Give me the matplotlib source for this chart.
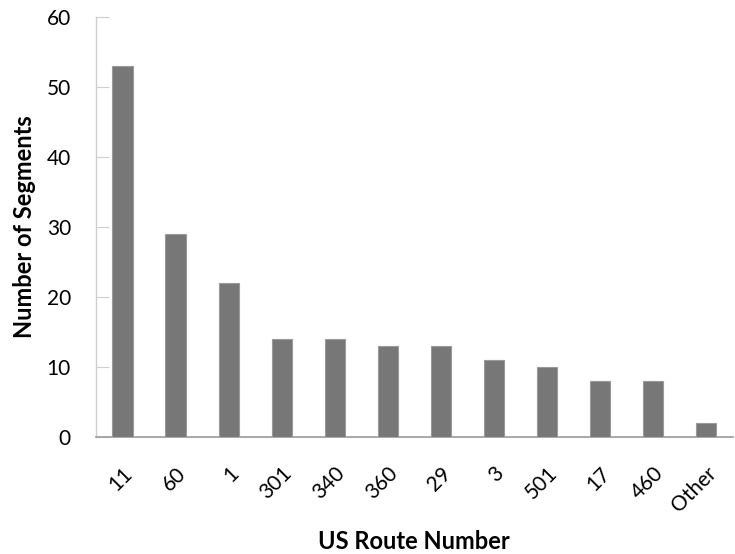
import matplotlib
matplotlib.use("Agg")
import matplotlib.pyplot as plt
import numpy as np

routes = ['11', '60', '1', '301', '340', '360', '29', '3', '501', '17', '460', 'Other']
segments = [53, 29, 22, 14, 14, 13, 13, 11, 10, 8, 8, 2]

plt.rcParams['font.family'] = ['Lato', 'DejaVu Sans']

fig = plt.figure(figsize=(7.35, 5.54), dpi=100)
ax = fig.add_axes([0.1306, 0.2112, 0.866, 0.758])

x = np.arange(len(routes))
ax.bar(x, segments, width=0.38, color='#777777', edgecolor='#9a9a9a', linewidth=0.8, zorder=3)

ax.set_xlim(-0.5, len(routes) - 0.5)
ax.set_ylim(0, 60)
ax.set_yticks(np.arange(0, 61, 10))
ax.set_xticks(x)
ax.set_xticklabels(routes, rotation=45, ha='right', rotation_mode='anchor')

for s in ['top', 'right']:
    ax.spines[s].set_visible(False)
ax.spines['left'].set_color('#cfcfcf')
ax.spines['bottom'].set_color('#9a9a9a')
ax.spines['left'].set_linewidth(1.0)
ax.spines['bottom'].set_linewidth(1.2)

ax.tick_params(axis='y', direction='in', length=9, color='#cfcfcf', labelsize=15, pad=18)
ax.tick_params(axis='x', length=0, labelsize=15, pad=19)

ax.set_xlabel('US Route Number', fontsize=17, fontweight='bold', labelpad=10)
ax.set_ylabel('Number of Segments', fontsize=17, fontweight='bold', labelpad=8)

fig.savefig('out.png', dpi=100)
